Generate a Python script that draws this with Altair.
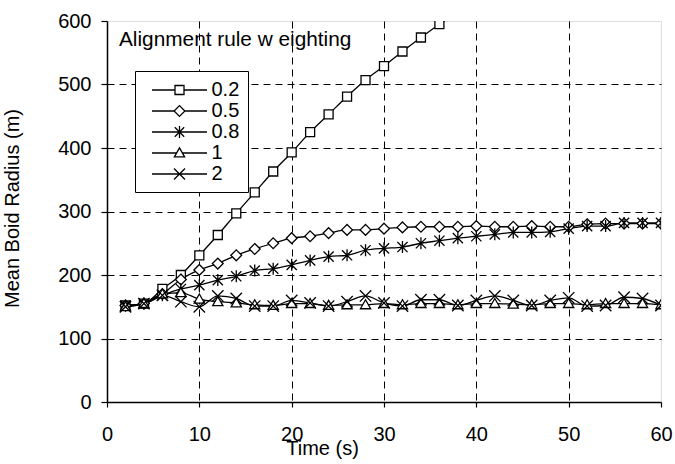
import altair as alt
import pandas as pd

# ---- data ----
times = list(range(2, 62, 2))
series_names = ["0.2", "0.5", "0.8", "1", "2"]

s_02 = [152, 155, 178, 200, 231, 263, 297, 330, 363, 393, 425, 453, 481, 507,
        529, 552, 574, 595, 613, 632]
s_05 = [152, 155, 170, 193, 208, 218, 231, 241, 250, 258, 261, 266, 271, 271,
        273, 275, 276, 276, 276, 277, 276, 276, 277, 276, 276, 280, 281, 281, 281, 281]
s_08 = [152, 155, 168, 178, 184, 192, 198, 207, 210, 216, 223, 229, 231, 239,
        242, 244, 250, 254, 258, 261, 264, 267, 267, 268, 273, 277, 277, 282, 282, 282]
s_1 = [150, 155, 170, 172, 162, 158, 156, 153, 152, 155, 155, 152, 153, 153,
       155, 153, 155, 155, 153, 155, 155, 154, 153, 155, 155, 153, 155, 155, 155, 153]
s_2 = [150, 155, 168, 158, 150, 167, 163, 151, 151, 160, 156, 151, 158, 167,
       156, 151, 161, 161, 152, 160, 167, 160, 152, 160, 164, 151, 152, 165, 163, 152]

x_ticks = [0, 10, 20, 30, 40, 50, 60]
y_ticks = [0, 100, 200, 300, 400, 500, 600]

rows = []
for name, vals in zip(series_names, [s_02, s_05, s_08, s_1, s_2]):
    for t, v in zip(times, vals):
        rows.append({"t": t, "v": v, "series": name})
df = pd.DataFrame(rows)

FONT = "Liberation Sans"

# marker shapes (unit square -1..1)
marker_paths = [
    "M-0.75,-0.75H0.75V0.75H-0.75Z",
    "M0,-0.9L0.9,0L0,0.9L-0.9,0Z",
    "M-0.85,-0.85L0.85,0.85M-0.85,0.85L0.85,-0.85M0,-1V1",
    "M0,-0.85L0.85,0.65H-0.85Z",
    "M-0.95,-0.95L0.95,0.95M-0.95,0.95L0.95,-0.95",
]
# legend symbols: line segment plus marker (10 px per unit at size 400)
legend_paths = [
    "M-2.75,0H-0.45M0.45,0H2.75M-0.45,-0.45H0.45V0.45H-0.45Z",
    "M-2.75,0H-0.54M0.54,0H2.75M0,-0.54L0.54,0L0,0.54L-0.54,0Z",
    "M-2.75,0H2.75M-0.47,-0.47L0.47,0.47M-0.47,0.47L0.47,-0.47M0,-0.6V0.6",
    "M-2.75,0H-0.29M0.29,0H2.75M0,-0.51L0.51,0.39H-0.51Z",
    "M-2.75,0H2.75M-0.55,-0.55L0.55,0.55M-0.55,0.55L0.55,-0.55",
]

x_enc = alt.X(
    "t:Q",
    scale=alt.Scale(domain=[0, 60], nice=False),
    axis=alt.Axis(
        values=x_ticks, title="Time (s)", grid=True, gridDash=[7, 5],
        gridColor="black", gridWidth=1,
        gridOpacity={"condition": {"test": "datum.value >= 60 || datum.value <= 0", "value": 0}, "value": 1},
        domainColor="black", domainWidth=1.5, tickColor="black", tickSize=5,
        tickWidth=1.2, labelFont=FONT, labelFontSize=20, labelColor="black",
        labelPadding=17, titleFont=FONT, titleFontSize=20, titleFontWeight="normal",
        titleColor="black", titleX=215, titleY=36, titleBaseline="top",
        titleAlign="center", labelFlush=False,
    ),
)
y_enc = alt.Y(
    "v:Q",
    scale=alt.Scale(domain=[0, 600], nice=False),
    axis=alt.Axis(
        values=y_ticks, title="Mean Boid Radius (m)", grid=True, gridDash=[7, 5],
        gridColor="black", gridWidth=1,
        gridOpacity={"condition": {"test": "datum.value >= 600 || datum.value <= 0", "value": 0}, "value": 1},
        domainColor="black", domainWidth=1.5, tickColor="black", tickSize=6,
        tickWidth=1.2, labelFont=FONT, labelFontSize=20, labelColor="black",
        labelPadding=10, titleFont=FONT, titleFontSize=20, titleFontWeight="normal",
        titleColor="black", titleX=-95, titleY=187, titleBaseline="middle",
        titleAlign="center", titleAngle=270, labelFlush=False,
    ),
)

base = alt.Chart(df)

lines = base.mark_line(color="black", strokeWidth=1.3, clip=True, interpolate="monotone").encode(
    x=x_enc, y=y_enc, detail="series:N", order="t:Q"
)

points = base.mark_point(
    filled=True, fill="white", stroke="black", strokeWidth=1.3, size=144,
    opacity=1, clip=True,
).encode(
    x=x_enc, y=y_enc,
    shape=alt.Shape("series:N", scale=alt.Scale(domain=series_names, range=marker_paths), legend=None),
)

legend_layer = base.transform_filter("false").mark_point(
    filled=True, fill="white", stroke="black", strokeWidth=1.3, size=400, opacity=1,
).encode(
    x=x_enc, y=y_enc,
    shape=alt.Shape(
        "series:N",
        scale=alt.Scale(domain=series_names, range=legend_paths),
        legend=alt.Legend(
            title=None, orient="none", legendX=28, legendY=50, padding=8,
            strokeColor="black", fillColor="white", labelFont=FONT,
            labelFontSize=20, labelColor="black", labelOffset=21, symbolOffset=25.5,
            symbolSize=400, rowPadding=-3.5, symbolStrokeWidth=1.3,
        ),
    ),
)

chart = (
    alt.layer(lines, points, legend_layer)
    .resolve_scale(shape="independent")
    .properties(
        width=554, height=381,
        autosize=alt.AutoSizeParams(type="none"),
        padding={"left": 107, "top": 21, "right": 14, "bottom": 62},
        title=alt.TitleParams(
            "Alignment rule w eighting", anchor="start", frame="group", orient="top",
            fontSize=20.8, fontWeight="normal", font=FONT, color="black",
            dx=12, dy=40, baseline="top", offset=0,
        ),
    )
    .configure_view(stroke="#808080", strokeWidth=2)
    .configure(background="white")
)

chart.save("out.html", embed_options={"renderer": "svg", "actions": False})
